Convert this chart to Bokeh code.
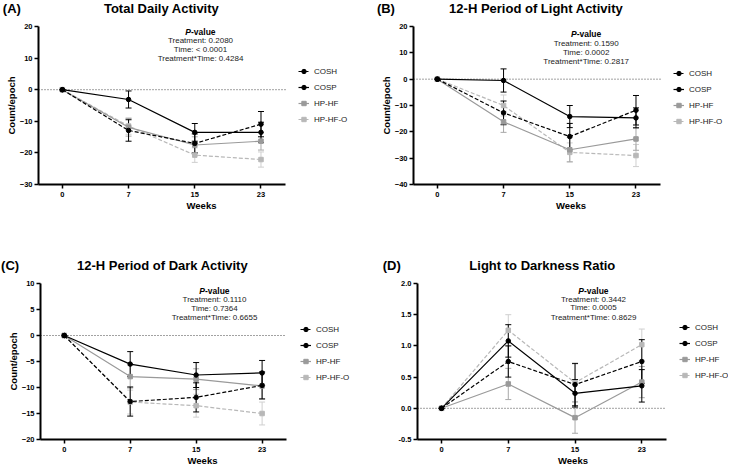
from bokeh.plotting import figure
from bokeh.layouts import column, row
from bokeh.models import (Range1d, FixedTicker, Whisker, TeeHead, ColumnDataSource,
                          Label, Legend, LegendItem, NumeralTickFormatter, Title)
from bokeh.embed import file_html
from bokeh.resources import INLINE

# ---------------- data ----------------
weeks = ["0", "7", "15", "23"]
groups = ["COSH", "COSP", "HP-HF", "HP-HF-O"]

# (A) Total Daily Activity
A_cosh = [0, -12.9, -17.0, -10.9]
A_cosp = [0, -3.1, -13.5, -13.5]
A_hphf = [0, -11.9, -17.5, -16.3]
A_hphfo = [0, -11.5, -20.7, -22.1]
A_cosh_err = [0, 3.4, 3.0, 4.0]
A_cosp_err = [0, 2.7, 2.8, 3.2]
A_hphf_err = [0, 2.8, 2.6, 2.8]
A_hphfo_err = [0, 2.6, 2.3, 2.4]
A_pvals = ["Treatment: 0.2080", "Time: < 0.0001", "Treatment*Time: 0.4284"]

# (B) 12-H Period of Light Activity
B_cosh = [0, -12.8, -21.8, -11.8]
B_cosp = [0, -0.5, -14.2, -14.7]
B_hphf = [0, -16.2, -26.8, -22.7]
B_hphfo = [0, -10.0, -27.8, -29.0]
B_cosh_err = [0, 4.5, 5.0, 5.6]
B_cosp_err = [0, 4.4, 4.2, 3.8]
B_hphf_err = [0, 4.0, 4.6, 4.3]
B_hphfo_err = [0, 4.0, 3.6, 4.2]
B_pvals = ["Treatment: 0.1590", "Time: 0.0002", "Treatment*Time: 0.2817"]

# (C) 12-H Period of Dark Activity
C_cosh = [0, -12.7, -11.9, -9.6]
C_cosp = [0, -5.5, -7.6, -7.2]
C_hphf = [0, -7.9, -8.4, -9.7]
C_hphfo = [0, -12.8, -13.5, -15.0]
C_cosh_err = [0, 2.8, 2.8, 2.6]
C_cosp_err = [0, 2.4, 2.4, 2.4]
C_hphf_err = [0, 2.2, 2.0, 2.5]
C_hphfo_err = [0, 2.3, 2.2, 2.2]
C_pvals = ["Treatment: 0.1110", "Time: 0.7364", "Treatment*Time: 0.6655"]

# (D) Light to Darkness Ratio
D_cosh = [0, 0.75, 0.38, 0.75]
D_cosp = [0, 1.08, 0.24, 0.36]
D_hphf = [0, 0.39, -0.15, 0.42]
D_hphfo = [0, 1.25, 0.41, 1.02]
D_cosh_err = [0, 0.25, 0.34, 0.35]
D_cosp_err = [0, 0.26, 0.22, 0.26]
D_hphf_err = [0, 0.25, 0.25, 0.25]
D_hphfo_err = [0, 0.25, 0.30, 0.25]
D_pvals = ["Treatment: 0.3442", "Time: 0.0005", "Treatment*Time: 0.8629"]

FONT = "Liberation Sans"
NBSP = "\u00a0"
X_LO, X_HI = -0.36, 3.37   # extent of the x axis (category index units)

styles = {
    "COSH": dict(color="black", err="black", dash="4 2", marker="circle"),
    "COSP": dict(color="black", err="black", dash="solid", marker="circle"),
    "HP-HF": dict(color="#9a9a9a", err="#a8a8a8", dash="solid", marker="square"),
    "HP-HF-O": dict(color="#b8b8b8", err="#cfcfcf", dash="4 2", marker="square"),
}


def make_panel(c):
    W, H = c["w"], c["h"]
    fl, fr, ft, fb = c["frame"]
    # frame runs to the right edge of the canvas; axis line limited by bounds
    x_end = X_LO + (W - fl) * (X_HI - X_LO) / (fr - fl)
    ttl = Title(text=c["letter"] + NBSP * c["gap"] + c["title"], align="left",
                vertical_align="top", offset=c["title_off"], standoff=0,
                text_font=FONT, text_font_style="bold",
                text_font_size="13px", text_color="black")
    p = figure(width=W, height=H, title=ttl, output_backend="svg", toolbar_location=None,
               x_range=Range1d(X_LO, x_end), y_range=Range1d(c["ymin"], c["ymax"]),
               min_border_left=fl, min_border_right=0,
               min_border_top=ft, min_border_bottom=H - fb)
    # small blank spacer between title and plot area
    p.add_layout(Title(text=NBSP, standoff=0, text_font=FONT, text_font_size="7px"), "above")
    p.xgrid.visible = False
    p.ygrid.visible = False
    p.outline_line_color = None
    p.background_fill_color = "white"

    x = list(range(len(weeks)))
    p.xaxis.ticker = FixedTicker(ticks=x)
    p.xaxis.major_label_overrides = {i: w for i, w in enumerate(weeks)}
    p.xaxis.bounds = (X_LO, X_HI)
    p.yaxis.ticker = FixedTicker(ticks=c["yticks"])
    if c["fmt"]:
        p.yaxis.formatter = NumeralTickFormatter(format=c["fmt"])
    for ax in (p.xaxis, p.yaxis):
        ax.axis_line_width = 2
        ax.axis_line_color = "black"
        ax.major_tick_in = 0
        ax.major_tick_out = 4
        ax.major_tick_line_width = 1.5
        ax.minor_tick_line_color = None
        ax.major_label_text_font = FONT
        ax.major_label_text_font_style = "bold"
        ax.major_label_text_font_size = "7.5px"
        ax.major_label_text_color = "black"
        ax.axis_label_text_font = FONT
        ax.axis_label_text_font_style = "bold"
        ax.axis_label_text_font_size = "9.5px"
        ax.axis_label_text_color = "black"
    p.xaxis.major_label_standoff = 3
    p.yaxis.major_label_standoff = 2
    p.xaxis.axis_label = "Weeks"
    p.xaxis.axis_label_standoff = 0
    if c["ylabel"]:
        p.yaxis.axis_label = c["ylabel"]
        p.yaxis.axis_label_standoff = 0

    # dotted zero reference line across the axis extent
    p.line([X_LO, X_HI], [0, 0], line_color="#444444", line_dash="1 2", line_width=1)

    rend = {}
    for g in reversed(groups):
        st = styles[g]
        vals = c["series"][g]
        errs = c["errs"][g]
        src = ColumnDataSource(dict(x=x, y=vals,
                                    lo=[v - e for v, e in zip(vals, errs)],
                                    hi=[v + e for v, e in zip(vals, errs)]))
        wh = Whisker(source=src, base="x", upper="hi", lower="lo", line_color=st["err"],
                     line_width=1,
                     upper_head=TeeHead(size=6, line_color=st["err"], line_width=1),
                     lower_head=TeeHead(size=6, line_color=st["err"], line_width=1))
        p.add_layout(wh)
        lr = p.line("x", "y", source=src, line_color=st["color"], line_width=1.2,
                    line_dash=st["dash"])
        sr = p.scatter("x", "y", source=src, marker=st["marker"], size=4.5,
                       fill_color=st["color"], line_color=st["color"])
        rend[g] = [lr, sr]

    items = [LegendItem(label=g, renderers=rend[g]) for g in groups]
    leg = Legend(items=items, location=c["leg"], padding=0, margin=0,
                 border_line_alpha=0, background_fill_alpha=0,
                 glyph_width=11, glyph_height=12, label_height=12, spacing=4,
                 label_standoff=5, label_text_font=FONT, label_text_font_size="8px",
                 label_text_color="#1a1a1a")
    p.add_layout(leg)

    # P-value block
    px = c["pv_x"]
    py = c["pv_y"]
    p.add_layout(Label(x=px - 9.5, y=py[0], x_units="canvas", y_units="canvas", text="P",
                       text_font=FONT, text_font_style="bold italic", text_font_size="8.5px",
                       text_align="right", text_baseline="middle", text_color="black"))
    p.add_layout(Label(x=px - 9.5, y=py[0], x_units="canvas", y_units="canvas", text="-value",
                       text_font=FONT, text_font_style="bold", text_font_size="8.5px",
                       text_align="left", text_baseline="middle", text_color="black"))
    for t, yy in zip(c["pvals"], py[1:]):
        p.add_layout(Label(x=px, y=yy, x_units="canvas", y_units="canvas", text=t,
                           text_font=FONT, text_font_size="8px", text_align="center",
                           text_baseline="middle", text_color="#222222"))
    return p


def pack(s, e):
    return dict(zip(groups, s)), dict(zip(groups, e))


sA, eA = pack([A_cosh, A_cosp, A_hphf, A_hphfo], [A_cosh_err, A_cosp_err, A_hphf_err, A_hphfo_err])
sB, eB = pack([B_cosh, B_cosp, B_hphf, B_hphfo], [B_cosh_err, B_cosp_err, B_hphf_err, B_hphfo_err])
sC, eC = pack([C_cosh, C_cosp, C_hphf, C_hphfo], [C_cosh_err, C_cosp_err, C_hphf_err, C_hphfo_err])
sD, eD = pack([D_cosh, D_cosp, D_hphf, D_hphfo], [D_cosh_err, D_cosp_err, D_hphf_err, D_hphfo_err])

pA = make_panel(dict(w=364, h=234, frame=(38, 285, 26, 184), ymin=-30, ymax=20,
                     yticks=[-30, -20, -10, 0, 10, 20], fmt=None, ylabel="Count/epoch",
                     series=sA, errs=eA, pvals=A_pvals, letter="(A)", title="Total Daily Activity",
                     gap=23, title_off=-35.7, pv_x=200, pv_y=[31.7, 40, 49.3, 58.3],
                     leg=(260, 59)))
pB = make_panel(dict(w=364, h=234, frame=(49, 296, 26, 184), ymin=-40, ymax=20,
                     yticks=[-40, -30, -20, -10, 0, 10, 20], fmt=None, ylabel="Count/epoch",
                     series=sB, errs=eB, pvals=B_pvals, letter="(B)",
                     title="12-H Period of Light Activity",
                     gap=15, title_off=-36.6, pv_x=221.7, pv_y=[33.7, 42.7, 52, 61],
                     leg=(260, 57)))
pC = make_panel(dict(w=364, h=234, frame=(40, 286, 49, 206), ymin=-20, ymax=10,
                     yticks=[-20, -15, -10, -5, 0, 5, 10], fmt=None, ylabel="Count/epoch",
                     series=sC, errs=eC, pvals=C_pvals, letter="(C)",
                     title="12-H Period of Dark Activity",
                     gap=16, title_off=-39.4, pv_x=214, pv_y=[56.7, 65, 74, 83.3],
                     leg=(260, 56)))
pD = make_panel(dict(w=364, h=234, frame=(53, 302, 49, 206), ymin=-0.5, ymax=2.0,
                     yticks=[-0.5, 0.0, 0.5, 1.0, 1.5, 2.0], fmt="0.0", ylabel=None,
                     series=sD, errs=eD, pvals=D_pvals, letter="(D)",
                     title="Light to Darkness Ratio",
                     gap=19, title_off=-34.8, pv_x=229, pv_y=[56, 64.7, 73.3, 82.7],
                     leg=(262, 58)))

layout = column(row(pA, pB), row(pC, pD))
open("out.html", "w").write(file_html(layout, INLINE))
